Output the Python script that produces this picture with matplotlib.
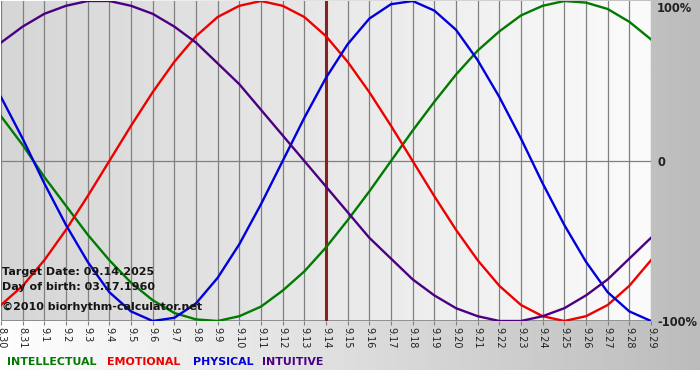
import numpy as np
import matplotlib
matplotlib.use("Agg")
import matplotlib.pyplot as plt
from matplotlib.colors import LinearSegmentedColormap

# day labels 8.30 .. 9.29
day_labels = ["8.30", "8.31"] + ["9.%d" % d for d in range(1, 30)]
target_idx = 15  # 9.14

# values (-1 .. 1), one per day
physical = [0.40, 0.14, -0.14, -0.40, -0.63, -0.82, -0.94, -1.00, -0.98, -0.89,
            -0.73, -0.52, -0.27, 0.00, 0.27, 0.52, 0.73, 0.89, 0.98, 1.00,
            0.94, 0.82, 0.63, 0.40, 0.14, -0.14, -0.40, -0.63, -0.82, -0.94, -1.00]
emotional = [-0.90, -0.78, -0.62, -0.43, -0.22, 0.00, 0.22, 0.43, 0.62, 0.78,
             0.90, 0.97, 1.00, 0.97, 0.90, 0.78, 0.62, 0.43, 0.22, 0.00,
             -0.22, -0.43, -0.62, -0.78, -0.90, -0.97, -1.00, -0.97, -0.90, -0.78, -0.62]
intellectual = [0.28, 0.10, -0.10, -0.28, -0.46, -0.62, -0.76, -0.87, -0.95, -0.99,
                -1.00, -0.97, -0.91, -0.81, -0.69, -0.54, -0.37, -0.19, 0.00, 0.19,
                0.37, 0.54, 0.69, 0.81, 0.91, 0.97, 1.00, 0.99, 0.95, 0.87, 0.76]
intuitive = [0.74, 0.84, 0.92, 0.97, 1.00, 1.00, 0.97, 0.92, 0.84, 0.74,
             0.61, 0.48, 0.32, 0.16, 0.00, -0.16, -0.32, -0.48, -0.61, -0.74,
             -0.84, -0.92, -0.97, -1.00, -1.00, -0.97, -0.92, -0.84, -0.74, -0.61, -0.48]

series = [("INTELLECTUAL", intellectual, "#007a00"),
          ("EMOTIONAL", emotional, "#ee0000"),
          ("PHYSICAL", physical, "#0000dd"),
          ("INTUITIVE", intuitive, "#4b0082")]

y_labels = ["100%", "0", "-100%"]

W, H = 700, 380
fig = plt.figure(figsize=(W / 100, H / 100), dpi=100)
fig.patch.set_facecolor("white")

# background panel: horizontal gradient white -> gray
bg = fig.add_axes([0, 0, 1, 1], zorder=-5)
bg.set_xlim(0, W)
bg.set_ylim(H, 0)
bg.axis("off")
grad = np.linspace(0, 1, 256).reshape(1, -1)
cm_bg = LinearSegmentedColormap.from_list("bg", ["#ffffff", "#bcbcbc"])
bg.imshow(grad, cmap=cm_bg, extent=[0, W, 370, 0], aspect="auto")

# plot area in pixels
left, right, top, bottom = 1, 651, 1, 321
ax = fig.add_axes([left / W, 1 - bottom / H, (right - left) / W, (bottom - top) / H])
n = len(day_labels)
x = np.arange(n)
ax.set_xlim(0, n - 1)
ax.set_ylim(-1, 1)

cm_plot = LinearSegmentedColormap.from_list("pl", ["#d6d6d6", "#fbfbfb"])
ax.imshow(grad, cmap=cm_plot, extent=[0, n - 1, -1, 1], aspect="auto", zorder=0)

for xi in x:
    ax.axvline(xi, color="#808080", lw=0.9, zorder=1)
ax.axhline(0, color="#808080", lw=0.9, zorder=1)
ax.axhline(-1, color="#808080", lw=1.2, zorder=1)

ax.axvline(target_idx, color="#8a2020", lw=2.2, zorder=2)

for name, vals, col in series:
    ax.plot(x, vals, color=col, lw=1.7, zorder=3, solid_joinstyle="round")

for s in ax.spines.values():
    s.set_visible(False)

ax.set_xticks(x)
ax.set_xticklabels(day_labels, rotation=-90, fontsize=7, color="#222222")
ax.tick_params(axis="x", length=3, color="#808080", pad=1)
ax.set_yticks([])

# right side scale labels
for lab, py in zip(y_labels, [8, 162, 322]):
    fig.text(657 / W, 1 - py / H, lab, fontsize=8.3, fontweight="bold",
             color="#222222", va="center", ha="left")

# info text
info_kw = dict(fontsize=8, fontweight="bold", color="#151515", va="center", ha="left")
fig.text(2 / W, 1 - 272 / H, "Target Date: 09.14.2025", **info_kw)
fig.text(2 / W, 1 - 286.5 / H, "Day of birth: 03.17.1960", **info_kw)
fig.text(2 / W, 1 - 307 / H, "\u00a92010 biorhythm-calculator.net", **info_kw)

# legend
leg_x = [7, 107, 193, 262]
for (name, vals, col), lx in zip(series, leg_x):
    fig.text(lx / W, 1 - 362 / H, name, fontsize=7.9, fontweight="bold",
             color=col, va="center", ha="left")

fig.savefig("out.png", dpi=100)
